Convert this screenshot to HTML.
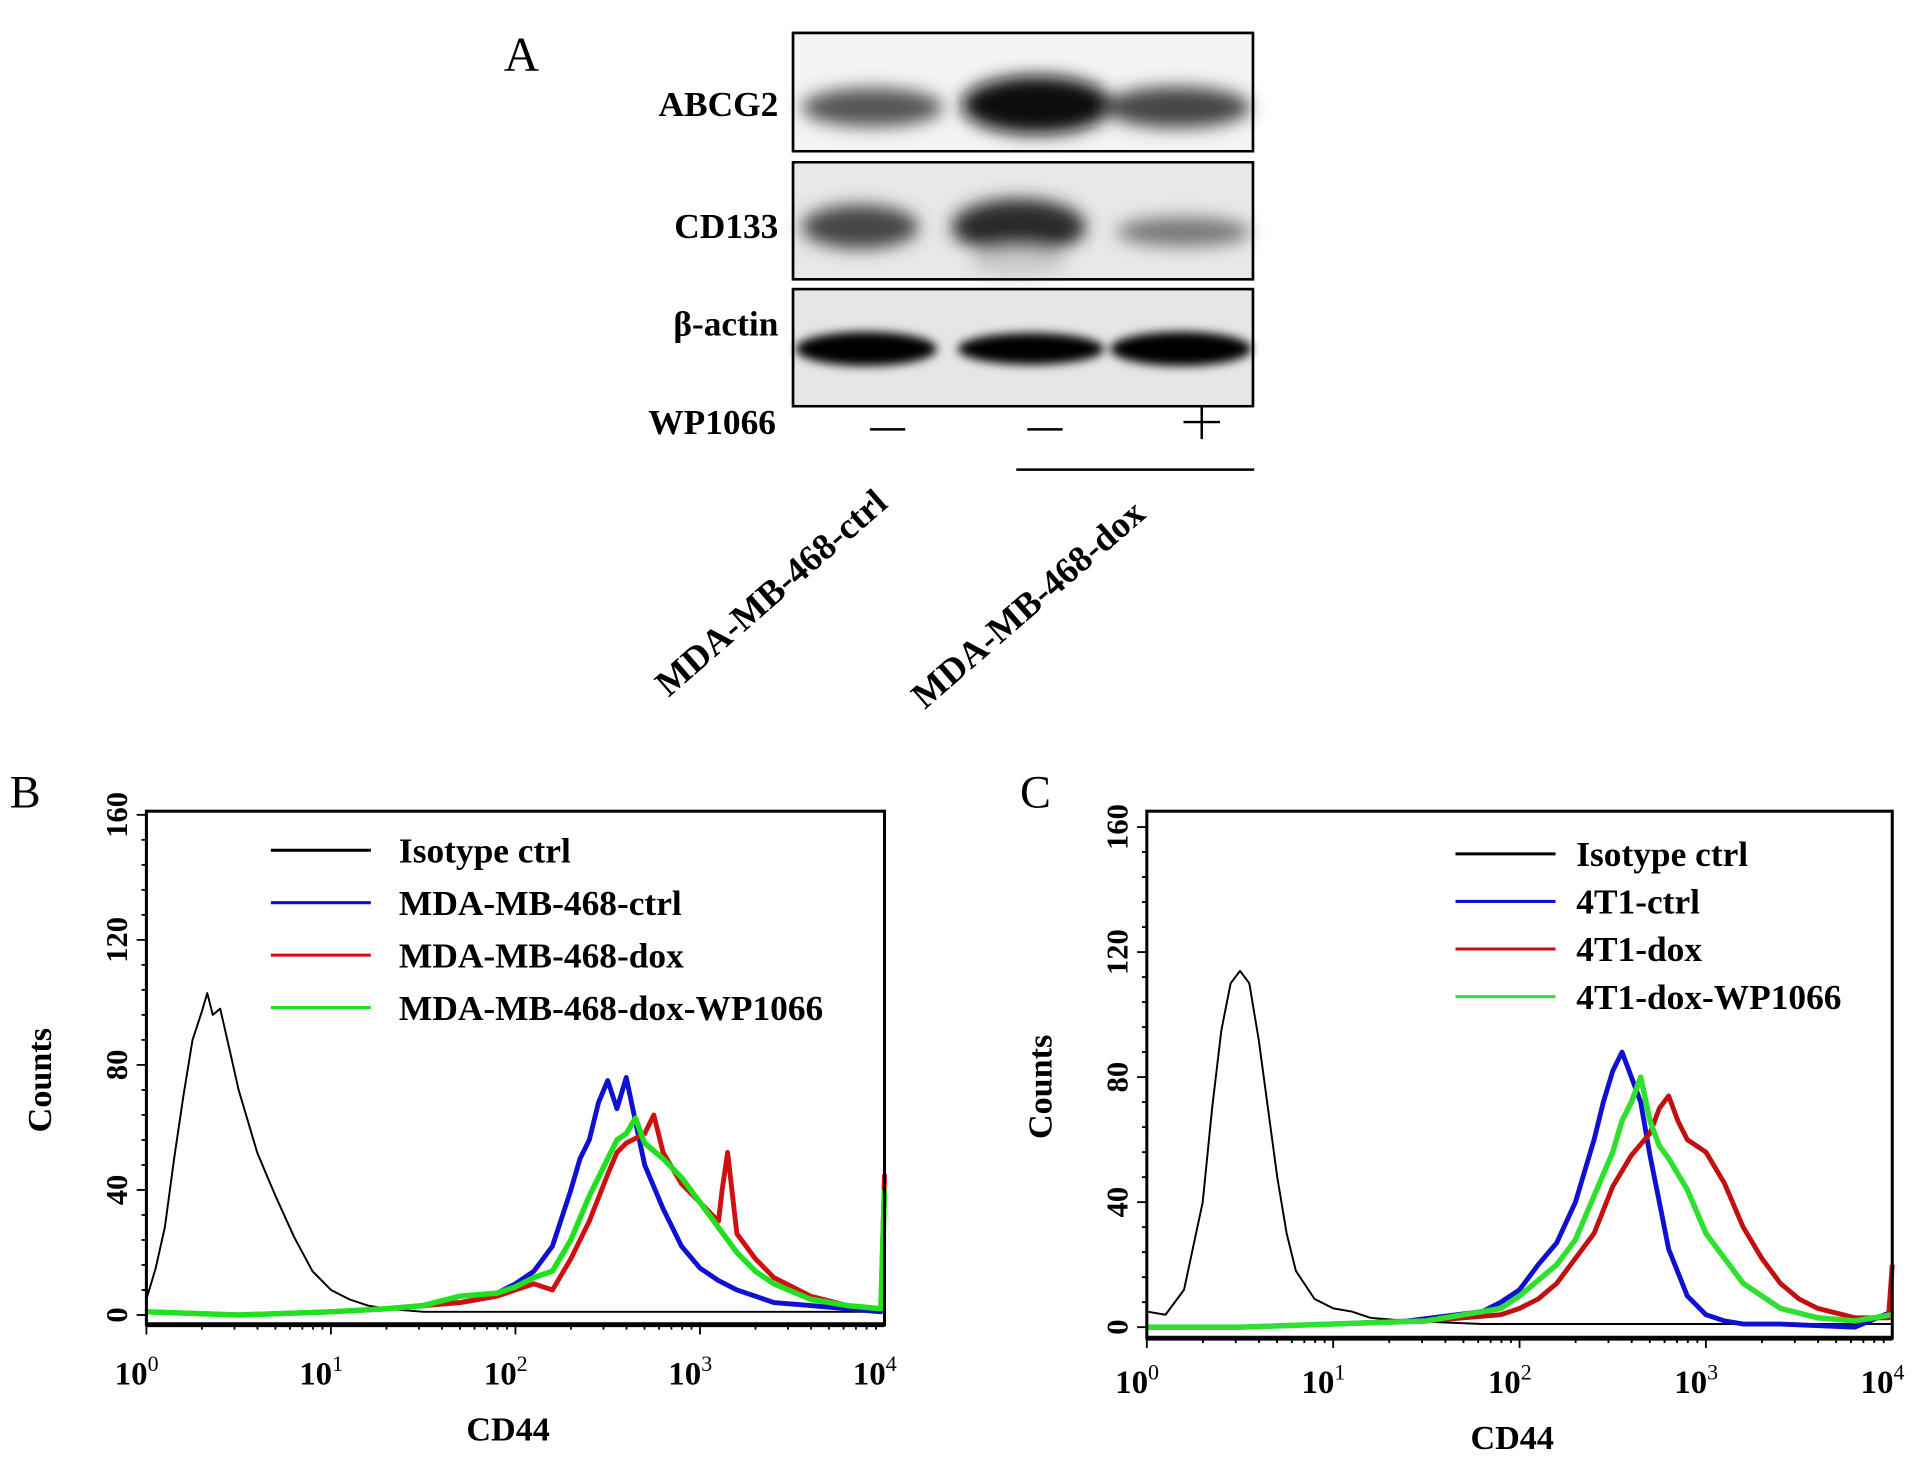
<!DOCTYPE html>
<html><head><meta charset="utf-8"><style>
html,body{margin:0;padding:0;background:#fff;}
svg{display:block;font-family:"Liberation Serif",serif;font-weight:bold;}
</style></head><body>
<svg id="fig" width="1913" height="1476" viewBox="0 0 1568 1210" preserveAspectRatio="none">
<defs>
<filter id="blur" x="-20%" y="-50%" width="140%" height="200%"><feGaussianBlur stdDeviation="7"/></filter>
<filter id="blur2" x="-20%" y="-50%" width="140%" height="200%"><feGaussianBlur stdDeviation="4"/></filter>
</defs>
<rect width="1568" height="1210" fill="#fff"/>
<text x="413" y="58" font-size="40" font-weight="normal">A</text>
<g>
 <rect x="650" y="27" width="377" height="97" fill="#f4f4f4" stroke="#000" stroke-width="2"/>
 <rect x="650" y="133" width="377" height="96" fill="#e8e8e8" stroke="#000" stroke-width="2"/>
 <rect x="650" y="237" width="377" height="96" fill="#e6e6e6" stroke="#000" stroke-width="2"/>
 <g filter="url(#blur)">
  <ellipse cx="715" cy="88" rx="58" ry="16" fill="#555"/>
  <ellipse cx="850" cy="86" rx="62" ry="24" fill="#111"/>
  <ellipse cx="965" cy="88" rx="60" ry="17" fill="#444"/>
  <ellipse cx="705" cy="186" rx="48" ry="18" fill="#444"/>
  <ellipse cx="835" cy="186" rx="55" ry="23" fill="#2a2a2a"/>
  <ellipse cx="835" cy="215" rx="40" ry="12" fill="#ccc"/>
  <ellipse cx="970" cy="190" rx="55" ry="12" fill="#777"/>
 </g>
 <g filter="url(#blur2)">
  <ellipse cx="710" cy="286" rx="58" ry="14" fill="#000"/>
  <ellipse cx="845" cy="286" rx="60" ry="13" fill="#000"/>
  <ellipse cx="968" cy="286" rx="58" ry="14" fill="#000"/>
 </g>
 <rect x="650" y="27" width="377" height="97" fill="none" stroke="#000" stroke-width="2"/>
 <rect x="650" y="133" width="377" height="96" fill="none" stroke="#000" stroke-width="2"/>
 <rect x="650" y="237" width="377" height="96" fill="none" stroke="#000" stroke-width="2"/>
</g>
<g font-size="29" text-anchor="end">
 <text x="638" y="95">ABCG2</text>
 <text x="638" y="195">CD133</text>
 <text x="638" y="275">β-actin</text>
 <text x="636" y="356">WP1066</text>
</g>
<g stroke="#000" stroke-width="2">
 <line x1="713" y1="352" x2="742" y2="352"/>
 <line x1="842" y1="352" x2="871" y2="352"/>
 <line x1="970" y1="346" x2="1000" y2="346"/><line x1="985" y1="333" x2="985" y2="360"/>
 <line x1="833" y1="385" x2="1028" y2="385"/>
</g>
<text transform="translate(548,572) rotate(-41)" font-size="30">MDA-MB-468-ctrl</text>
<text transform="translate(758,582) rotate(-41)" font-size="30">MDA-MB-468-dox</text>

<text x="8" y="662" font-size="38" font-weight="normal">B</text>
<text x="836" y="662" font-size="38" font-weight="normal">C</text>
<g id="panelB"></g>
<g id="panelC"></g>
</svg>
<script>
const bIsoX=[0,0.05,0.1,0.15,0.2,0.25,0.3,0.33,0.36,0.4,0.45,0.5,0.55,0.6,0.65,0.7,0.8,0.9,1.0,1.1,1.2,1.3,1.5,1.8,2.2,2.6,3.0,3.4,3.8,4.0];
const bIsoY=[5,15,28,50,70,88,97,103,96,98,85,72,62,52,45,38,25,14,8,5,3,2,1,1,1,1,1,1,1,1];
const bBlueX=[0,0.5,1.0,1.3,1.5,1.7,1.8,1.9,2.0,2.1,2.2,2.3,2.35,2.4,2.45,2.5,2.55,2.6,2.65,2.7,2.8,2.9,3.0,3.1,3.2,3.4,3.6,3.8,3.98,4.0];
const bBlueY=[1,0,1,2,3,4,5,7,10,14,22,40,50,56,68,75,66,76,62,48,34,22,15,11,8,4,3,2,1,40];
const bRedX=[0,0.5,1.0,1.3,1.5,1.7,1.9,2.0,2.1,2.2,2.3,2.4,2.5,2.55,2.6,2.7,2.75,2.8,2.9,3.0,3.1,3.12,3.15,3.2,3.3,3.4,3.6,3.8,3.98,4.0];
const bRedY=[1,0,1,2,3,4,6,8,10,8,18,30,45,52,55,58,64,52,42,36,30,40,52,26,18,12,6,3,2,45];
const bGreenX=[0,0.5,1.0,1.3,1.5,1.7,1.9,2.0,2.1,2.2,2.3,2.4,2.5,2.55,2.6,2.65,2.7,2.8,2.9,3.0,3.1,3.2,3.3,3.4,3.6,3.8,3.98,4.0];
const bGreenY=[1,0,1,2,3,6,7,9,12,14,24,38,50,56,58,63,55,50,44,36,28,20,14,10,5,3,2,40];
const cIsoX=[0,0.1,0.2,0.3,0.35,0.4,0.45,0.5,0.55,0.6,0.65,0.7,0.75,0.8,0.9,1.0,1.1,1.2,1.4,1.8,2.2,2.6,3.0,3.4,3.8,4.0];
const cIsoY=[5,4,12,40,70,95,110,114,110,92,70,48,30,18,9,6,5,3,2,1,1,1,1,1,1,1];
const cBlueX=[0,0.5,1.0,1.4,1.8,1.9,2.0,2.1,2.2,2.3,2.4,2.45,2.5,2.55,2.6,2.65,2.7,2.75,2.8,2.9,3.0,3.1,3.2,3.4,3.8,4.0];
const cBlueY=[0,0,1,2,5,8,12,20,27,40,60,72,82,88,80,72,55,40,25,10,4,2,1,1,0,5];
const cRedX=[0,0.5,1.0,1.5,1.9,2.0,2.1,2.2,2.3,2.4,2.5,2.6,2.7,2.75,2.8,2.85,2.9,3.0,3.1,3.2,3.3,3.4,3.5,3.6,3.8,3.98,4.0];
const cRedY=[0,0,1,2,4,6,9,14,22,30,45,55,62,70,74,66,60,56,46,32,22,14,9,6,3,3,20];
const cGreenX=[0,0.5,1.0,1.5,1.9,2.0,2.1,2.2,2.3,2.4,2.5,2.55,2.6,2.65,2.7,2.75,2.8,2.9,3.0,3.1,3.2,3.3,3.4,3.6,3.8,4.0];
const cGreenY=[0,0,1,2,6,10,15,20,28,42,56,66,72,80,66,58,54,44,30,22,14,10,6,3,2,4];
const yTicks=[0,40,80,120,160];
const xTicks=[0,1,2,3,4];
const NS='http://www.w3.org/2000/svg';
function mk(tag,attrs,parent){const e=document.createElementNS(NS,tag);for(const k in attrs)e.setAttribute(k,attrs[k]);parent.appendChild(e);return e;}
function panel(g,box,legendX,legendY,legendGap,textX,names,series,tickLabX){
  const sx=v=>box.x0+(v/4)*(box.x1-box.x0);
  const sy=v=>box.y0-(v/160)*(box.y0-box.y160);
  series.forEach(s=>{
    let d='';
    for(let i=0;i<s.x.length;i++){
      const X=sx(s.x[i]),Y=sy(s.y[i]);
      d+=(i?'L':'M')+X.toFixed(1)+' '+Y.toFixed(1);
    }
    const p=mk('path',{d:d,fill:'none',stroke:s.c,'stroke-width':s.w,'stroke-linejoin':'round'},g);
    
    
  });
  const r=mk('rect',{x:box.x0,y:box.top,width:box.x1-box.x0,height:box.bottom-box.top,fill:'none',stroke:'#000','stroke-width':2.5},g);
  
  
  mk('line',{x1:box.x0,x2:box.x1,y1:box.bottom,y2:box.bottom,stroke:'#000','stroke-width':4},g);
  for(let v=0;v<=160;v+=8){mk('line',{x1:box.x0-(v%40?4:8),x2:box.x0,y1:sy(v),y2:sy(v),stroke:'#000','stroke-width':1.5},g);}
  yTicks.forEach(v=>{
    const t=mk('text',{transform:`translate(${box.x0-16},${sy(v)}) rotate(-90)`,'text-anchor':'middle','font-size':25},g);
    t.textContent=v;
    
    
  });
  for(let dec=0;dec<4;dec++){for(let m=1;m<10;m++){const lv=dec+Math.log10(m);mk('line',{x1:sx(lv),x2:sx(lv),y1:box.bottom,y2:box.bottom+(m===1?8:4),stroke:'#000','stroke-width':1.5},g);}}
  xTicks.forEach(v=>{
    const t=mk('text',{x:sx(v)-8,y:tickLabX,'text-anchor':'middle','font-size':27},g);
    t.textContent='10';
    const sup=mk('tspan',{dy:-11,'font-size':18,'font-weight':'normal'},t);sup.textContent=v;
    
    
  });
  const xt=mk('text',{x:(box.x0+box.x1)/2-6,y:tickLabX+46,'text-anchor':'middle','font-size':28},g);
  xt.textContent='CD44';
  
  
  const yt=mk('text',{transform:`translate(${box.x0-78},${(box.top+box.bottom)/2+10}) rotate(-90)`,'text-anchor':'middle','font-size':28},g);
  yt.textContent='Counts';
  
  
  series.forEach((s,i)=>{
    const y=legendY+i*legendGap;
    const l=mk('line',{x1:legendX,x2:legendX+82,y1:y,y2:y,stroke:s.c,'stroke-width':2.5},g);
    
    
    const t=mk('text',{x:textX,y:y+10,'font-size':29},g);
    t.textContent=names[i];
    
    
  });
}
panel(document.getElementById('panelB'),{x0:120,x1:725,top:665,bottom:1086,y0:1078,y160:668},222,697,43,327,
 ['Isotype ctrl','MDA-MB-468-ctrl','MDA-MB-468-dox','MDA-MB-468-dox-WP1066'],
 [{x:bIsoX,y:bIsoY,c:'#000',w:1.6,name:'isotype-line'},{x:bBlueX,y:bBlueY,c:'#1010d0',w:4,name:'ctrl-line'},{x:bRedX,y:bRedY,c:'#d01010',w:4,name:'dox-line'},{x:bGreenX,y:bGreenY,c:'#20e020',w:4.5,name:'dox-wp1066-line'}],1135);
panel(document.getElementById('panelC'),{x0:940,x1:1551,top:665,bottom:1097,y0:1088,y160:678},1193,700,39,1292,
 ['Isotype ctrl','4T1-ctrl','4T1-dox','4T1-dox-WP1066'],
 [{x:cIsoX,y:cIsoY,c:'#000',w:1.6,name:'isotype-line'},{x:cBlueX,y:cBlueY,c:'#1010d0',w:4,name:'ctrl-line'},{x:cRedX,y:cRedY,c:'#c01010',w:4,name:'dox-line'},{x:cGreenX,y:cGreenY,c:'#30e030',w:4.5,name:'dox-wp1066-line'}],1142);
</script>
</body></html>
